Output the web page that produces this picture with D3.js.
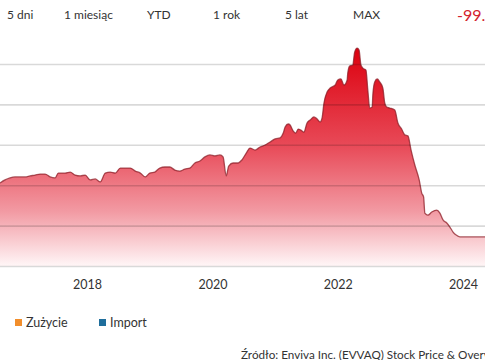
<!DOCTYPE html>
<html>
<head>
<meta charset="utf-8">
<script src="https://cdn.jsdelivr.net/npm/d3@7"></script>
<style>
  html, body { margin: 0; padding: 0; background: #fff; overflow: hidden; }
  svg { display: block; font-family: Lato, "Noto Sans", sans-serif; }
</style>
</head>
<body>
<svg id="chart" width="485" height="360"></svg>
<script>
// Decimal years
const years = [2016.61,2016.69,2016.77,2016.85,2016.93,2017.01,2017.09,2017.17,2017.25,2017.33,2017.41,2017.49,2017.54,2017.65,2017.73,2017.81,2017.89,2017.97,2018.05,2018.13,2018.21,2018.29,2018.37,2018.45,2018.53,2018.61,2018.69,2018.77,2018.85,2018.93,2019.00,2019.08,2019.16,2019.24,2019.32,2019.40,2019.48,2019.56,2019.64,2019.72,2019.80,2019.88,2019.96,2020.04,2020.12,2020.17,2020.22,2020.26,2020.33,2020.41,2020.47,2020.54,2020.60,2020.68,2020.76,2020.84,2020.92,2021.00,2021.08,2021.13,2021.16,2021.21,2021.24,2021.29,2021.33,2021.37,2021.41,2021.46,2021.51,2021.56,2021.62,2021.67,2021.72,2021.75,2021.78,2021.83,2021.88,2021.96,2022.00,2022.05,2022.10,2022.15,2022.16,2022.19,2022.24,2022.27,2022.31,2022.34,2022.37,2022.40,2022.45,2022.48,2022.51,2022.55,2022.56,2022.59,2022.63,2022.67,2022.72,2022.75,2022.78,2022.83,2022.91,2022.96,2023.02,2023.07,2023.12,2023.17,2023.23,2023.30,2023.34,2023.37,2023.39,2023.44,2023.50,2023.58,2023.63,2023.68,2023.74,2023.79,2023.84,2023.89,2023.95,2024.11,2024.35];
// Price values (relative units)
const prices = [41.1,42.6,43.6,44.1,44.1,44.1,44.6,45.0,45.5,45.5,44.1,43.6,46.0,46.0,46.5,45.0,44.6,45.0,42.6,43.1,41.6,46.0,46.5,46.0,48.5,48.5,48.5,47.0,46.0,44.1,46.0,46.5,48.5,49.0,49.0,47.5,47.0,48.0,48.5,51.0,52.0,54.0,55.0,54.5,55.0,54.0,44.6,49.5,51.0,51.0,52.5,55.9,58.4,57.4,58.9,59.9,61.4,62.9,63.4,65.8,68.8,70.3,69.8,66.8,65.8,67.8,67.3,66.3,70.8,72.3,73.8,72.8,71.3,73.3,80.7,86.1,88.1,89.6,92.1,92.6,89.6,92.1,95.5,99.0,99.5,105.9,107.9,106.9,99.5,98.0,97.0,87.1,78.2,78.7,84.7,91.1,92.6,91.1,88.1,80.7,78.7,78.2,77.2,70.8,67.8,64.9,64.4,57.4,50.0,42.6,36.1,34.2,26.2,25.2,26.7,27.7,26.2,22.8,21.3,19.3,16.8,15.3,14.4,14.4,14.4];

const rangeButtons = ["5 dni", "1 miesiąc", "YTD", "1 rok", "5 lat", "MAX"];
const changeLabel = "-99.87%";
const xTickValues = [2018, 2020, 2022, 2024];
const gridValues = [0, 20, 40, 60, 80, 100];
const legendItems = ["Zużycie", "Import"];
const legendColors = ["#f28e2b", "#1f6e9c"];
const sourceText = "Źródło: Enviva Inc. (EVVAQ) Stock Price & Overview";

const data = years.map((y, i) => ({ t: y, v: prices[i] }));
const svg = d3.select("#chart");

const x = d3.scaleLinear().domain([2016.61, 2024.35]).range([0, 485]);
const y = d3.scaleLinear().domain([0, 100]).range([266, 64]);

// gradient
const defs = svg.append("defs");
const grad = defs.append("linearGradient").attr("id", "fillGrad")
  .attr("gradientUnits", "userSpaceOnUse")
  .attr("x1", 0).attr("x2", 0).attr("y1", y(108)).attr("y2", y(0));
grad.append("stop").attr("offset", "0%").attr("stop-color", "#dc000e");
grad.append("stop").attr("offset", "45%").attr("stop-color", "#e84a58");
grad.append("stop").attr("offset", "75%").attr("stop-color", "#f29aa3");
grad.append("stop").attr("offset", "100%").attr("stop-color", "#fff6f7");

// area
const area = d3.area().x(d => x(d.t)).y0(y(0)).y1(d => y(d.v)).curve(d3.curveMonotoneX);
const line = d3.line().x(d => x(d.t)).y(d => y(d.v)).curve(d3.curveMonotoneX);

svg.append("path").datum(data).attr("d", area).attr("fill", "url(#fillGrad)");
svg.append("path").datum(data).attr("d", line)
  .attr("fill", "none").attr("stroke", "#8e1f28").attr("stroke-opacity", 0.75)
  .attr("stroke-width", 1.3).attr("stroke-linejoin", "round");

// grid lines on top
const yAxis = d3.axisLeft(y).tickValues(gridValues).tickSize(-485).tickFormat("");
const gy = svg.append("g").attr("transform", "translate(0,0)").call(yAxis);
gy.select(".domain").remove();
gy.selectAll(".tick line").attr("stroke", "#000").attr("stroke-opacity", 0.15).attr("stroke-width", 1.6);

// x axis labels
const xAxis = d3.axisBottom(x).tickValues(xTickValues).tickSize(0).tickPadding(0).tickFormat(d3.format("d"));
const gx = svg.append("g").attr("transform", "translate(0,280)").call(xAxis);
gx.select(".domain").remove();
gx.selectAll(".tick text").attr("font-family", "Lato, sans-serif").attr("font-size", 12.5)
  .attr("fill", "#333").attr("dy", "0.75em");

// range buttons
const btnX = [7, 64, 147, 213, 285, 353];
svg.selectAll("text.btn").data(rangeButtons).enter().append("text")
  .attr("class", "btn").attr("x", (d, i) => btnX[i]).attr("y", 19)
  .attr("font-size", 12).attr("fill", "#333").text(d => d);

svg.append("text").attr("x", 457).attr("y", 21).attr("font-size", 16)
  .attr("fill", "#d3232d").text(changeLabel);

// legend
const legX = [15, 99];
const lg = svg.selectAll("g.leg").data(legendItems).enter().append("g")
  .attr("class", "leg").attr("transform", (d, i) => `translate(${legX[i]},319)`);
lg.append("rect").attr("width", 7).attr("height", 7).attr("fill", (d, i) => legendColors[i]);
lg.append("text").attr("x", 11).attr("y", 8).attr("font-size", 12.5).attr("fill", "#333").text(d => d);

// source
svg.append("text").attr("x", 241).attr("y", 359).attr("font-size", 11.7).attr("fill", "#333").text(sourceText);
</script>
</body>
</html>
